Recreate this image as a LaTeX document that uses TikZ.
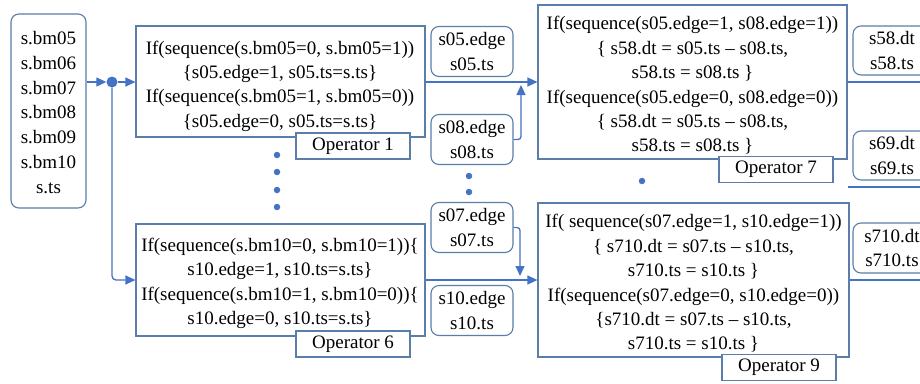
\documentclass[tikz,border=0pt]{standalone}
\usepackage{fontspec}
\setmainfont{Liberation Serif}
\usetikzlibrary{arrows.meta}
\definecolor{flow}{HTML}{4472C4}
\definecolor{frame}{HTML}{5A7DAA}
\begin{document}
\begin{tikzpicture}[x=1pt,y=-1pt,
  every node/.style={font=\fontsize{19}{24.4}\selectfont, inner sep=0pt, align=center},
  opbox/.style={draw=frame, line width=1.2pt, fill=white},
  tagbox/.style={draw=frame, line width=1.2pt, fill=white, minimum width=114, minimum height=26},
  varbox/.style={draw=frame, line width=1.1pt, rounded corners=8pt, fill=white, minimum width=82, minimum height=50},
  flowline/.style={draw=flow, line width=1.3pt},
  flowarrow/.style={flowline, -{Triangle[length=10pt,width=9pt]}},
  bigdot/.style={circle, fill=flow, minimum size=11pt},
  smalldot/.style={circle, fill=flow, minimum size=6.5pt},
]
\useasboundingbox (0,0) rectangle (920,383);

% signal source
\node[varbox, minimum width=75, minimum height=194] (src) at (48.5,111) {};
\node (srctxt) at (48.5,112.5)
  {s.bm05\\[0.4pt]s.bm06\\[0.4pt]s.bm07\\[0.4pt]s.bm08\\[0.4pt]s.bm09\\[0.4pt]s.bm10\\[0.4pt]s.ts};
\node[bigdot] (hub) at (112,82) {};

% edge-detection operators
\node[opbox, minimum width=289, minimum height=111] (op1) at (280.5,81.5) {};
\node (op1txt) at (280,86)
  {If(sequence(s.bm05=0, s.bm05=1))\\\{s05.edge=1, s05.ts=s.ts\}\\
   If(sequence(s.bm05=1, s.bm05=0))\\\{s05.edge=0, s05.ts=s.ts\}};
\node[tagbox] (op1tag) at (353,146) {Operator 1};

\node[opbox, minimum width=289, minimum height=112] (op6) at (280.5,280) {};
\node (op6txt) at (280,283.5)
  {If(sequence(s.bm10=0, s.bm10=1))\{\\s10.edge=1, s10.ts=s.ts\}\\
   If(sequence(s.bm10=1, s.bm10=0))\{\\s10.edge=0, s10.ts=s.ts\}};
\node[tagbox] (op6tag) at (353,344) {Operator 6};

% intermediate edge variables
\node[varbox] (s05) at (472,51.5) {s05.edge\\s05.ts};
\node[varbox] (s08) at (472,139.5) {s08.edge\\s08.ts};
\node[varbox] (s07) at (472,227.5) {s07.edge\\s07.ts};
\node[varbox] (s10) at (472,310.5) {s10.edge\\s10.ts};

% pairwise timing operators
\node[opbox, minimum width=309, minimum height=154] (op7) at (692.5,82) {};
\node (op7txt) at (692.5,85.5)
  {If(sequence(s05.edge=1, s08.edge=1))\\\{ s58.dt = s05.ts – s08.ts,\\s58.ts = s08.ts \}\\
   If(sequence(s05.edge=0, s08.edge=0))\\\{ s58.dt = s05.ts – s08.ts,\\s58.ts = s08.ts \}};
\node[tagbox] (op7tag) at (776,169.5) {Operator 7};

\node[opbox, minimum width=311, minimum height=154] (op9) at (693.5,280) {};
\node (op9txt) at (693.5,283.5)
  {If( sequence(s07.edge=1, s10.edge=1))\\\{ s710.dt = s07.ts – s10.ts,\\s710.ts = s10.ts \}\\
   If(sequence(s07.edge=0, s10.edge=0))\\\{s710.dt = s07.ts – s10.ts,\\s710.ts = s10.ts \}};
\node[tagbox] (op9tag) at (779,367.5) {Operator 9};

% outputs
\node[varbox, minimum width=78, minimum height=49] (s58) at (892,50.5) {s58.dt\\s58.ts};
\node[varbox, minimum width=78, minimum height=49] (s69) at (892,155.5) {s69.dt\\s69.ts};
\node[varbox, minimum width=78, minimum height=50] (s710) at (892,248) {s710.dt\\s710.ts};

% ellipsis dots
\node[smalldot] (d1) at (277,155) {};
\node[smalldot] (d2) at (277,172) {};
\node[smalldot] (d3) at (277,190) {};
\node[smalldot] (d4) at (277,207) {};
\node[smalldot] (e1) at (469,176) {};
\node[smalldot] (e2) at (469,192) {};
\node[smalldot] (f1) at (642,181) {};

% connectors
\coordinate (j7) at (521,85);
\coordinate (j9) at (520,276);
\coordinate (r7) at (920,82);
\coordinate (r8a) at (848,187);
\coordinate (r8b) at (920,187);
\coordinate (r9) at (920,280);

\draw[flowarrow] (src.east |- hub) -- (hub.west);
\draw[flowarrow] (hub.east) -- (hub -| op1.west);
\draw[flowarrow, rounded corners=4pt] (hub.south) |- (op6.west);
\draw[flowarrow] (op1.east |- hub) -- (hub -| op7.west);
\draw[flowarrow] (op6.east) -- (op6 -| op9.west);
\draw[flowarrow, rounded corners=3pt] (s08.east) -| (j7);
\draw[flowarrow, rounded corners=3pt] (s07.east) -| (j9);
\draw[flowline] (op7.east) -- (r7);
\draw[flowline] (r8a) -- (r8b);
\draw[flowline] (op9.east) -- (r9);
\end{tikzpicture}
\end{document}
